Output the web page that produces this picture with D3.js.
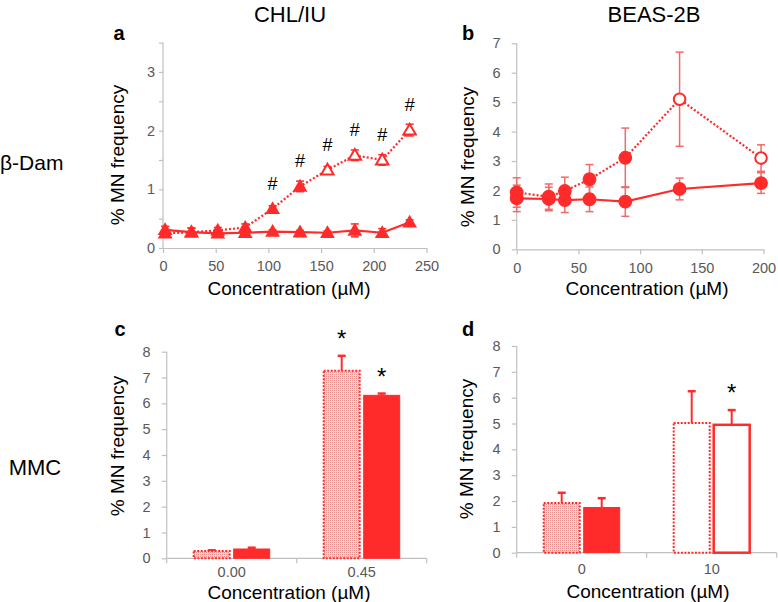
<!DOCTYPE html>
<html>
<head>
<meta charset="utf-8">
<script src="https://cdn.jsdelivr.net/npm/d3@7/dist/d3.min.js"></script>
<style>
  html, body { margin: 0; padding: 0; background: #fff; }
  svg { display: block; font-family: "Liberation Sans", Arial, sans-serif; }
</style>
</head>
<body>
<svg id="chart" width="778" height="602"></svg>
<script>
// ---------------- DATA ----------------
// Panel a: CHL/IU, beta-Dam (line chart, triangles)
const concA = [2, 27, 52, 78, 104, 130, 156, 182, 208, 234];
const aDotted = [0.25, 0.27, 0.30, 0.35, 0.67, 1.05, 1.33, 1.58, 1.50, 2.01];
const aDottedErr = [0.05, 0.07, 0.05, 0.06, 0.05, 0.09, 0.06, 0.09, 0.09, 0.10];
const aDottedOpen = [false, false, false, false, false, false, true, true, true, true];
const aSolid = [0.31, 0.27, 0.25, 0.26, 0.28, 0.27, 0.26, 0.30, 0.26, 0.44];
const aSolidErr = [0.06, 0.07, 0.05, 0.05, 0.03, 0.03, 0.03, 0.11, 0.07, 0.04];
const aHash = [false, false, false, false, true, true, true, true, true, true];
const aXTicks = [0, 50, 100, 150, 200, 250];
const aYTicks = [0, 0.5, 1, 1.5, 2, 2.5, 3, 3.5];

// Panel b: BEAS-2B, beta-Dam (line chart, circles)
const concB = [0, 26, 39, 59, 88, 132, 198];
const bDotted = [1.93, 1.79, 1.98, 2.38, 3.11, 5.10, 3.10];
const bDottedErr = [0.50, 0.43, 0.47, 0.50, 1.01, 1.60, 0.45];
const bDottedOpen = [false, false, false, false, false, true, true];
const bSolid = [1.73, 1.71, 1.67, 1.70, 1.62, 2.05, 2.25];
const bSolidErr = [0.45, 0.40, 0.42, 0.42, 0.50, 0.37, 0.35];
const bXTicks = [0, 50, 100, 150, 200];
const bYTicks = [0, 1, 2, 3, 4, 5, 6, 7];

// Panel c: CHL/IU, MMC (bars)
const catsC = ["0.00", "0.45"];
const cFirst = [0.28, 7.26];
const cFirstErr = [0.03, 0.58];
const cSecond = [0.36, 6.31];
const cSecondErr = [0.05, 0.07];
const cStar = [[false, false], [true, true]];

// Panel d: BEAS-2B, MMC (bars)
const catsD = ["0", "10"];
const dFirst = [1.92, 5.02];
const dFirstErr = [0.40, 1.23];
const dSecond = [1.75, 4.95];
const dSecondErr = [0.36, 0.57];
const dStar = [[false, false], [false, true]];
const barYTicks = [0, 1, 2, 3, 4, 5, 6, 7, 8];

// ---------------- STYLE ----------------
const RED = "#ff2a2a";
const ERR_RED = "#f06a6a";
const AXIS = "#c0c0c0";
const TICKTXT = "#595959";

const svg = d3.select("#chart");
const defs = svg.append("defs");
const pat = defs.append("pattern").attr("id", "dots").attr("patternUnits", "userSpaceOnUse")
  .attr("width", 2).attr("height", 2);
pat.append("rect").attr("width", 2).attr("height", 2).attr("fill", "#f9d6d6");
pat.append("rect").attr("x", 0).attr("y", 0).attr("width", 1).attr("height", 1).attr("fill", "#ec8f8f");

// ---------------- TITLES ----------------
function txt(x, y, s, opts = {}) {
  const t = svg.append("text").attr("x", x).attr("y", y).text(s)
    .attr("font-size", opts.size || 19)
    .attr("fill", opts.fill || "#000")
    .attr("text-anchor", opts.anchor || "middle");
  if (opts.weight) t.attr("font-weight", opts.weight);
  return t;
}
txt(290, 22, "CHL/IU", { size: 22 });
txt(654, 22, "BEAS-2B", { size: 22 });
txt(0, 170, "β-Dam", { size: 21, anchor: "start" });
txt(35, 475, "MMC", { size: 22 });
txt(119, 40, "a", { size: 20, weight: "bold" });
txt(468, 40, "b", { size: 20, weight: "bold" });
txt(120, 336, "c", { size: 20, weight: "bold" });
txt(468, 336, "d", { size: 20, weight: "bold" });

function yLabel(x, y) {
  svg.append("text").attr("transform", `translate(${x},${y}) rotate(-90)`)
    .attr("text-anchor", "middle").attr("dy", "0.35em").attr("font-size", 19)
    .text("% MN frequency");
}
yLabel(117.5, 155);
yLabel(467.5, 157);
yLabel(117.5, 446);
yLabel(466.5, 449);

txt(289, 295, "Concentration (µM)");
txt(647, 295, "Concentration (µM)");
txt(289, 599, "Concentration (µM)");
txt(648, 598, "Concentration (µM)");

function styleAxis(g) {
  g.select(".domain").attr("stroke", AXIS).attr("stroke-width", 1.2);
  g.selectAll(".tick line").attr("stroke", AXIS).attr("stroke-width", 1.2);
  g.selectAll(".tick text").attr("fill", TICKTXT).attr("font-size", 14.5)
    .attr("font-family", "'Liberation Sans', Arial, sans-serif");
}

// ---------------- LINE PANELS ----------------
function linePanel(cfg) {
  const x = d3.scaleLinear().domain(cfg.xDomain).range(cfg.xRange);
  const y = d3.scaleLinear().domain(cfg.yDomain).range(cfg.yRange);
  const g = svg.append("g");
  const gy = g.append("g").attr("transform", `translate(${cfg.xRange[0]},0)`)
    .call(d3.axisLeft(y).tickValues(cfg.yTicks).tickSize(cfg.yTickSize).tickPadding(cfg.yPad)
      .tickFormat(d => Number.isInteger(d) ? d : ""));
  styleAxis(gy);
  gy.select(".domain").attr("d", `M0,${cfg.yRange[0]}V${cfg.yRange[1]}`);
  const gx = g.append("g").attr("transform", `translate(0,${cfg.yRange[0]})`)
    .call(d3.axisBottom(x).tickValues(cfg.xTicks).tickSize(5).tickPadding(8).tickSizeOuter(0));
  styleAxis(gx);

  const series = [
    { vals: cfg.solid, err: cfg.solidErr, open: cfg.solid.map(() => false), dash: null },
    { vals: cfg.dotted, err: cfg.dottedErr, open: cfg.dottedOpen, dash: "2,2" }
  ];
  // error bars
  series.forEach(s => {
    const eg = g.append("g");
    s.vals.forEach((v, i) => {
      const cx = x(cfg.conc[i]);
      const e = s.err[i];
      eg.append("line").attr("x1", cx).attr("x2", cx).attr("y1", y(v - e)).attr("y2", y(v + e))
        .attr("stroke", cfg.errColor).attr("stroke-width", 1.5);
      [v - e, v + e].forEach(vv => eg.append("line").attr("x1", cx - cfg.cap).attr("x2", cx + cfg.cap)
        .attr("y1", y(vv)).attr("y2", y(vv)).attr("stroke", cfg.errColor).attr("stroke-width", 1.5));
    });
  });
  // lines
  const line = d3.line().x((d, i) => x(cfg.conc[i])).y(d => y(d));
  series.forEach(s => {
    const p = g.append("path").datum(s.vals).attr("d", line).attr("fill", "none")
      .attr("stroke", RED).attr("stroke-width", 2.2);
    if (s.dash) p.attr("stroke-dasharray", s.dash);
  });
  // markers
  const sym = d3.symbol().type(cfg.symbol).size(cfg.symSize);
  series.forEach(s => {
    s.vals.forEach((v, i) => {
      const open = s.open[i];
      g.append("path").attr("d", open ? d3.symbol().type(cfg.symbol).size(cfg.symSize * 0.7)() : sym())
        .attr("transform", `translate(${x(cfg.conc[i])},${y(v) + (cfg.symbol === d3.symbolTriangle ? 1 : 0)})`)
        .attr("fill", open ? "#fff" : RED)
        .attr("stroke", RED).attr("stroke-width", open ? 2 : 0);
    });
  });
  return { x, y, g };
}

const pa = linePanel({
  conc: concA, solid: aSolid, solidErr: aSolidErr, dotted: aDotted, dottedErr: aDottedErr,
  dottedOpen: aDottedOpen, xDomain: [0, 250], xRange: [163, 426.5], yDomain: [0, 3.5],
  yRange: [248, 42.6], xTicks: aXTicks, yTicks: aYTicks, yTickSize: 4, yPad: 4,
  symbol: d3.symbolTriangle, symSize: 95, cap: 4, errColor: RED
});
aDotted.forEach((v, i) => {
  if (aHash[i]) {
    svg.append("text").attr("x", pa.x(concA[i])).attr("y", pa.y(v) - 19)
      .attr("text-anchor", "middle").attr("font-size", 18).text("#");
  }
});

linePanel({
  conc: concB, solid: bSolid, solidErr: bSolidErr, dotted: bDotted, dottedErr: bDottedErr,
  dottedOpen: bDottedOpen, xDomain: [0, 200], xRange: [516.7, 763.5], yDomain: [0, 7],
  yRange: [249.3, 43.3], xTicks: bXTicks, yTicks: bYTicks, yTickSize: 5, yPad: 11,
  symbol: d3.symbolCircle, symSize: 150, cap: 4, errColor: ERR_RED
});

// ---------------- BAR PANELS ----------------
function barPanel(cfg) {
  const x0 = d3.scaleBand().domain(cfg.cats).range(cfg.xRange).padding(0);
  const x1 = d3.scaleBand().domain([0, 1]).range([26, 104]).paddingInner(0.05);
  const y = d3.scaleLinear().domain([0, 8]).range(cfg.yRange);
  const g = svg.append("g");
  const gy = g.append("g").attr("transform", `translate(${cfg.xRange[0]},0)`)
    .call(d3.axisLeft(y).tickValues(barYTicks).tickSize(5).tickPadding(11).tickSizeOuter(0));
  styleAxis(gy);
  gy.select(".domain").attr("d", `M0,${cfg.yRange[0]}V${cfg.yRange[1]}`);
  const gx = g.append("g").attr("transform", `translate(0,${cfg.yRange[0]})`)
    .call(d3.axisBottom(x0).tickSize(0).tickPadding(cfg.xPad).tickSizeOuter(0));
  styleAxis(gx);
  gx.select(".domain").attr("d", `M${cfg.xRange[0]},0H${cfg.xRange[1]}`);
  // boundary ticks
  const bounds = [cfg.xRange[0], ...cfg.cats.map(c => x0(c) + x0.bandwidth())];
  bounds.forEach(b => gx.append("line").attr("x1", b).attr("x2", b).attr("y1", 0).attr("y2", 5)
    .attr("stroke", AXIS).attr("stroke-width", 1.2));

  const series = [
    { vals: cfg.first, err: cfg.firstErr },
    { vals: cfg.second, err: cfg.secondErr }
  ];
  cfg.cats.forEach((c, ci) => {
    series.forEach((s, si) => {
      const v = s.vals[ci], e = s.err[ci];
      const bx = x0(c) + x1(si), bw = x1.bandwidth();
      const style = cfg.styles[ci][si];
      const cx = bx + bw / 2;
      // error bar (upward)
      g.append("line").attr("x1", cx).attr("x2", cx).attr("y1", y(v)).attr("y2", y(v + e))
        .attr("stroke", RED).attr("stroke-width", 2);
      g.append("line").attr("x1", cx - 4).attr("x2", cx + 4).attr("y1", y(v + e)).attr("y2", y(v + e))
        .attr("stroke", RED).attr("stroke-width", 2.5);
      const r = g.append("rect").attr("x", bx + 1).attr("y", y(v)).attr("width", bw - 2)
        .attr("height", y(0) - y(v));
      if (style === "pattern") {
        r.attr("fill", "url(#dots)").attr("stroke", RED).attr("stroke-width", 2).attr("stroke-dasharray", "2,1.5");
      } else if (style === "solid") {
        r.attr("fill", RED).attr("stroke", RED).attr("stroke-width", 1);
      } else if (style === "openDotted") {
        r.attr("fill", "#fff").attr("stroke", RED).attr("stroke-width", 2).attr("stroke-dasharray", "2,1.5");
      } else {
        r.attr("fill", "#fff").attr("stroke", RED).attr("stroke-width", 2.5);
      }
      if (cfg.stars[ci][si]) {
        g.append("text").attr("x", cx).attr("y", y(v + e) - 9).attr("text-anchor", "middle")
          .attr("font-size", 24).text("*");
      }
    });
  });
}

barPanel({
  cats: catsC, first: cFirst, firstErr: cFirstErr, second: cSecond, secondErr: cSecondErr,
  xRange: [166.7, 426.7], yRange: [558.3, 351.7], stars: cStar, xPad: 8,
  styles: [["pattern", "solid"], ["pattern", "solid"]]
});
barPanel({
  cats: catsD, first: dFirst, firstErr: dFirstErr, second: dSecond, secondErr: dSecondErr,
  xRange: [516.7, 776.7], yRange: [552.7, 346], stars: dStar, xPad: 11,
  styles: [["pattern", "solid"], ["openDotted", "openSolid"]]
});
</script>
</body>
</html>
